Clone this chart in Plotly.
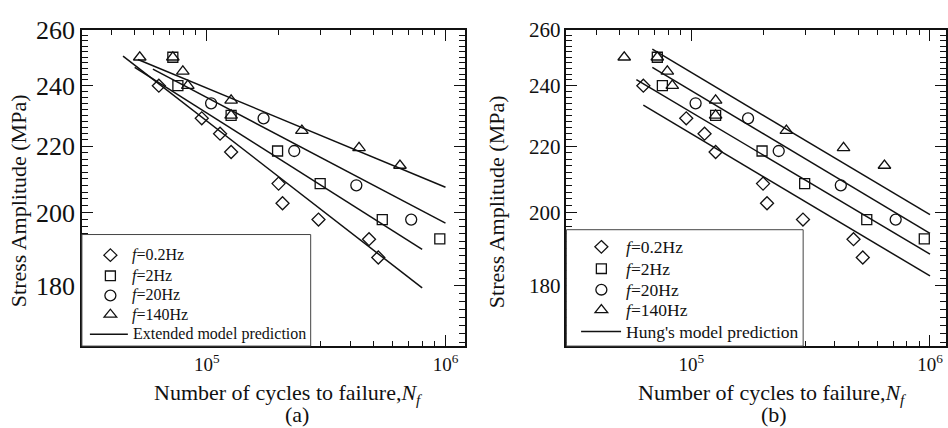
import numpy as np
import plotly.graph_objects as go

# ---- Fatigue test data: cycles to failure (N_f) and stress amplitude (MPa) ----
n_02hz = [63000, 95300, 113700, 126500, 199900, 207700, 293800, 478300, 523000]
s_02hz = [240, 229, 224, 218.2, 208.5, 202.7, 198, 192.5, 187.5]

n_2hz = [72100, 75700, 126500, 198000, 298600, 543500, 946600]
s_2hz = [250, 240, 230, 218.5, 208.5, 198, 192.6]

n_20hz = [104300, 173000, 232500, 423200, 718300]
s_20hz = [234, 229, 218.5, 208, 198]

n_140hz = [52400, 72100, 79400, 83300, 126500, 126500, 250300, 434400, 644500]
s_140hz = [250, 250, 245, 240, 235, 230, 225, 219.5, 214]

# ---- Extended model prediction (straight lines in log-log space) ----
ext_n_02 = [44600, 798500]
ext_s_02 = [250.4, 179.5]
ext_n_2 = [49900, 798500]
ext_s_2 = [246.4, 189.7]
ext_n_20 = [59500, 1.0e6]
ext_s_20 = [245.8, 197.0]
ext_n_140 = [51500, 1.0e6]
ext_s_140 = [249.2, 207.4]

# ---- Hung's model prediction ----
hung_n_02 = [63000, 1.0e6]
hung_s_02 = [233.4, 182.6]
hung_n_2 = [58900, 1.0e6]
hung_s_2 = [242.1, 188.4]
hung_n_20 = [68700, 1.0e6]
hung_s_20 = [246.4, 194.1]
hung_n_140 = [68700, 1.0e6]
hung_s_140 = [252.9, 199.4]

# ---- Axis ticks ----
x_major = [1e5, 1e6]
x_major_text = ["10<sup>5</sup>", "10<sup>6</sup>"]
x_minor = [k * 1e4 for k in range(4, 10)] + [k * 1e5 for k in range(2, 10)]
y_major = [180, 200, 220, 240, 260]
y_minor = [v for v in range(166, 260, 2) if v not in y_major]

# ---- Legend labels ----
freq_labels = ["<i>f</i>=0.2Hz", "<i>f</i>=2Hz", "<i>f</i>=20Hz", "<i>f</i>=140Hz"]
model_labels = ["Extended model prediction", "Hung's model prediction"]
panel_tags = ["(a)", "(b)"]

W, H = 948, 428
SERIF = "Liberation Serif"
INK = "#111111"

symbols = ["diamond", "square", "circle", "triangle"]
sizes = [10, 10, 11, 11]
data_n = [n_02hz, n_2hz, n_20hz, n_140hz]
data_s = [s_02hz, s_2hz, s_20hz, s_140hz]

ext_lines = [(ext_n_02, ext_s_02), (ext_n_2, ext_s_2),
             (ext_n_20, ext_s_20), (ext_n_140, ext_s_140)]
hung_lines = [(hung_n_02, hung_s_02), (hung_n_2, hung_s_2),
              (hung_n_20, hung_s_20), (hung_n_140, hung_s_140)]

fig = go.Figure()

for xa, ya, lines, line_name in [("x", "y", ext_lines, model_labels[0]),
                                 ("x2", "y2", hung_lines, model_labels[1])]:
    for name, sym, size, nx, sy in zip(freq_labels, symbols, sizes, data_n, data_s):
        fig.add_trace(go.Scatter(
            x=nx, y=sy, mode="markers", name=name, xaxis=xa, yaxis=ya,
            cliponaxis=False,
            marker=dict(symbol=("triangle-up" if sym == "triangle" else sym) + "-open",
                        size=size, color=INK, line=dict(width=1.3, color=INK)),
        ))
    for nx, sy in lines:
        fig.add_trace(go.Scatter(
            x=nx, y=sy, mode="lines", name=line_name, xaxis=xa, yaxis=ya,
            line=dict(color=INK, width=1.5),
        ))

LOG3E4 = np.log10(3e4)
PX_PER_DECADE = 239.0
y_top_px, y_bot_px = 16.5, 343.3
y_dom = [1 - y_bot_px / H, 1 - y_top_px / H]
y_rng = [np.log10(165.1), np.log10(260)]


def xaxis_cfg(x0, x1, anchor):
    return dict(
        type="log", domain=[x0 / W, x1 / W], anchor=anchor,
        range=[LOG3E4, LOG3E4 + (x1 - x0) / PX_PER_DECADE],
        tickmode="array", tickvals=x_major, ticktext=x_major_text,
        ticks="inside", ticklen=11, tickwidth=1.3, tickcolor=INK,
        minor=dict(tickmode="array", tickvals=x_minor, ticks="inside",
                   ticklen=5, tickwidth=1.2, tickcolor=INK),
        showline=True, linecolor=INK, linewidth=1.5, mirror="allticks",
        showgrid=False, zeroline=False,
        tickfont=dict(family=SERIF, size=19, color=INK),
    )


def yaxis_cfg(anchor, font_size):
    return dict(
        type="log", domain=y_dom, range=y_rng, anchor=anchor,
        tickmode="array", tickvals=y_major, ticktext=[str(v) for v in y_major],
        ticks="inside", ticklen=11, tickwidth=1.3, tickcolor=INK,
        minor=dict(tickmode="array", tickvals=y_minor, ticks="inside",
                   ticklen=6, tickwidth=1.2, tickcolor=INK),
        showline=True, linecolor=INK, linewidth=1.5, mirror="allticks",
        showgrid=False, zeroline=False,
        tickfont=dict(family=SERIF, size=font_size, color=INK),
    )


fig.update_layout(
    width=W, height=H,
    margin=dict(l=0, r=0, t=0, b=0),
    paper_bgcolor="white", plot_bgcolor="white",
    showlegend=False,
    xaxis=xaxis_cfg(82, 465, "y"),
    yaxis=yaxis_cfg("x", 26),
    xaxis2=xaxis_cfg(567, 947, "y2"),
    yaxis2=yaxis_cfg("x2", 21),
)


# ---- Boxed key in the lower-left corner of each panel (pixel layout) ----
def px(x, y):
    return x / W, 1 - y / H


def symbol_shape(kind, cx, cy, size):
    r = size / 2
    style = dict(xref="paper", yref="paper", layer="above",
                 line=dict(color=INK, width=1.3), fillcolor="rgba(0,0,0,0)")
    if kind == "circle":
        (x0, y0), (x1, y1) = px(cx - r, cy + r), px(cx + r, cy - r)
        return dict(type="circle", x0=x0, y0=y0, x1=x1, y1=y1, **style)
    if kind == "square":
        pts = [(cx - r, cy - r), (cx + r, cy - r), (cx + r, cy + r), (cx - r, cy + r)]
    elif kind == "diamond":
        d = 1.3 * r
        pts = [(cx, cy - d), (cx + d, cy), (cx, cy + d), (cx - d, cy)]
    else:
        rt = r * 2 / np.sqrt(3)
        pts = [(cx - rt, cy + r / 2), (cx + rt, cy + r / 2), (cx, cy - r)]
    path = "M" + " L".join("%.5f,%.5f" % px(x, y) for x, y in pts) + " Z"
    return dict(type="path", path=path, **style)


keys = [
    # box left, top, right, symbol x, text x, row centres, line x0, x1, font size
    dict(left=82, top=228, right=311, sx=110.5, tx=130, rows=[249.3, 270.7, 291, 310.7, 331],
         lx=(90, 128), fs=16, label=model_labels[0]),
    dict(left=567, top=223, right=804, sx=602, tx=625, rows=[240.7, 263.3, 285, 306, 328.3],
         lx=(581.7, 621.7), fs=17.5, label=model_labels[1]),
]

shapes, annotations = [], []
for k in keys:
    (bx0, by1), (bx1, by0) = px(k["left"], k["top"]), px(k["right"], y_bot_px)
    shapes.append(dict(type="rect", xref="paper", yref="paper", layer="above",
                       x0=bx0, y0=by0, x1=bx1, y1=by1, fillcolor="white",
                       line=dict(color="#444444", width=1)))
    for kind, size, row, lab in zip(symbols, sizes, k["rows"], freq_labels):
        shapes.append(symbol_shape(kind, k["sx"], row, size))
        annotations.append(dict(text=lab, x=k["tx"] / W, y=1 - row / H,
                                xanchor="left", yanchor="middle",
                                font=dict(family=SERIF, size=k["fs"], color=INK)))
    ly = k["rows"][-1]
    (lx0, lyp), (lx1, _) = px(k["lx"][0], ly), px(k["lx"][1], ly)
    shapes.append(dict(type="line", xref="paper", yref="paper", layer="above",
                       x0=lx0, x1=lx1, y0=lyp, y1=lyp, line=dict(color=INK, width=1.5)))
    annotations.append(dict(text=k["label"], x=(k["lx"][1] + 3) / W, y=1 - ly / H,
                            xanchor="left", yanchor="middle",
                            font=dict(family=SERIF, size=k["fs"], color=INK)))

# ---- Axis titles and panel tags ----
title_font = dict(family=SERIF, size=22, color=INK)
x_title = "Number of cycles to failure,<i>N<sub>f</sub></i>"
for a in [
    dict(text="Stress Amplitude (MPa)", x=18.5 / W, y=1 - 193 / H, textangle=-90),
    dict(text="Stress Amplitude (MPa)", x=497 / W, y=1 - 194 / H, textangle=-90),
    dict(text=x_title, x=289 / W, y=1 - 393 / H),
    dict(text=x_title, x=773 / W, y=1 - 393 / H),
    dict(text=panel_tags[0], x=297 / W, y=1 - 414 / H),
    dict(text=panel_tags[1], x=775 / W, y=1 - 414 / H),
]:
    annotations.append(dict(xanchor="center", yanchor="middle", font=title_font, **a))

for a in annotations:
    fig.add_annotation(xref="paper", yref="paper", showarrow=False, **a)
fig.update_layout(shapes=shapes)

fig.write_html("out.html")
